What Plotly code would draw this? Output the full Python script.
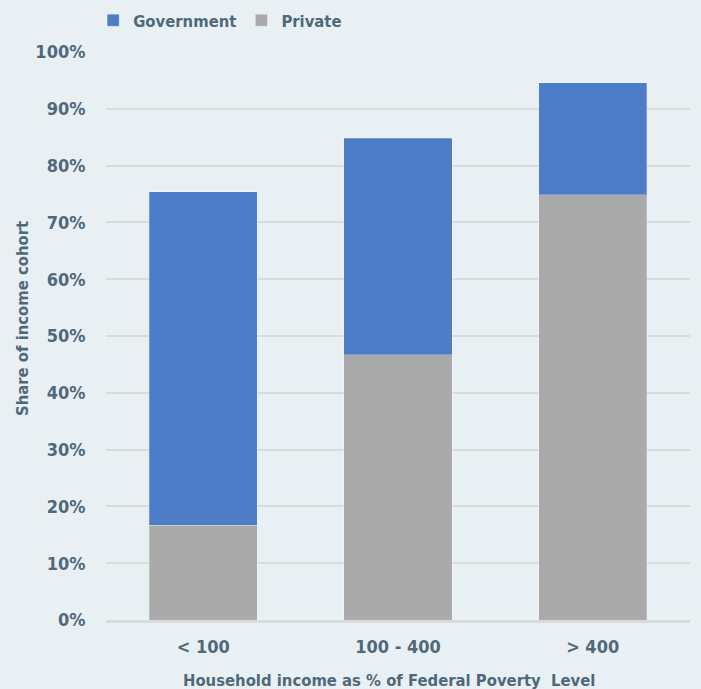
import plotly.graph_objects as go

categories = ["< 100", "100 - 400", "> 400"]
private_share = [16.7, 46.7, 74.9]
government_share = [58.7, 38.1, 19.7]
y_ticks = list(range(0, 101, 10))
y_tick_labels = [f"{v}%" for v in y_ticks]
y_title = "Share of income cohort"
x_title = "Household income as % of Federal Poverty  Level"

BG = "#E9F0F4"
TXT = "#50697A"
GRID = "#D9DADB"
FONT = "DejaVu Sans Condensed"

fig = go.Figure()
fig.add_trace(go.Bar(
    x=categories, y=private_share, name="<b>Private</b>",
    marker=dict(color="#AAAAAA", line=dict(color="rgba(255,255,255,0.25)", width=1)),
))
fig.add_trace(go.Bar(
    x=categories, y=government_share, name="<b>Government</b>",
    marker=dict(color="#4E7DC8", line=dict(color="rgba(255,255,255,0.25)", width=1)),
))

fig.update_layout(
    width=701, height=689, autosize=False,
    barmode="stack", bargap=0.445,
    paper_bgcolor=BG, plot_bgcolor=BG,
    margin=dict(l=106, r=11, t=52, b=69, autoexpand=False),
    font=dict(family=FONT, color=TXT, size=18),
    legend=dict(orientation="h", x=-0.022, y=1 - 3 / 689, xref="paper", yref="container",
                xanchor="left", yanchor="top",
                traceorder="reversed", font=dict(size=16.5, family=FONT, color=TXT),
                bgcolor="rgba(0,0,0,0)"),
    showlegend=True,
)
fig.update_yaxes(
    range=[0, 100], tickvals=y_ticks, ticktext=[f"<b>{t}</b>" for t in y_tick_labels],
    showgrid=True, gridcolor=GRID, gridwidth=2,
    zeroline=False, showline=False, automargin=False,
    ticks="outside", ticklen=16, tickcolor="rgba(0,0,0,0)",
    tickfont=dict(size=18, family=FONT, color=TXT),
)
fig.update_xaxes(
    tickvals=categories, ticktext=[f"<b>{c}</b>" for c in categories],
    showline=True, linecolor=GRID, linewidth=3, automargin=False,
    ticks="outside", ticklen=8, tickcolor="rgba(0,0,0,0)",
    tickfont=dict(size=18, family=FONT, color=TXT),
)
fig.add_annotation(text=f"<b>{y_title}</b>", textangle=-90, showarrow=False,
                   xref="paper", yref="paper", x=(22 - 106) / 584, y=(620 - 319) / 568,
                   xanchor="center", yanchor="middle",
                   font=dict(size=16.5, family=FONT, color=TXT))
fig.add_annotation(text=f"<b>{x_title}</b>", showarrow=False,
                   xref="paper", yref="paper", x=(389 - 106) / 584, y=(620 - 680) / 568,
                   xanchor="center", yanchor="middle",
                   font=dict(size=16.5, family=FONT, color=TXT))

fig.write_html("out.html", config={"responsive": False, "displayModeBar": False},
               post_script="document.body.style.margin='0';")
